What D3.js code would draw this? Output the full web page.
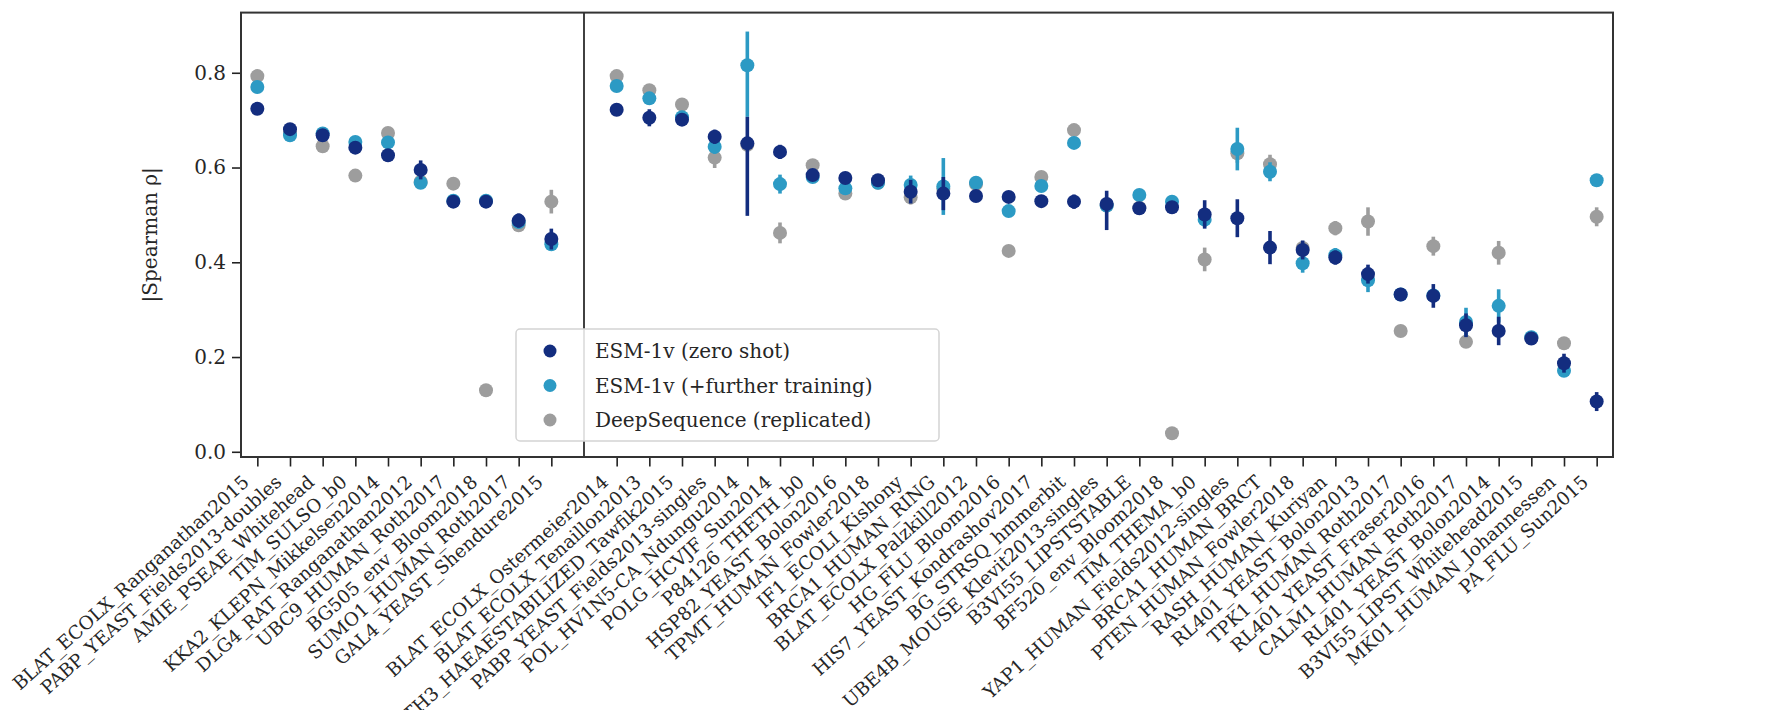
<!DOCTYPE html>
<html>
<head>
<meta charset="utf-8">
<script src="https://cdn.jsdelivr.net/npm/d3@7"></script>
<style>
  body { margin: 0; background: #fff; }
  text { font-family: "DejaVu Serif", serif; fill: #262626; }
</style>
</head>
<body>
<div id="chart"></div>
<script>
// datasets, left block then right block (a blank slot with a vertical line splits them)
var categories = [
  "BLAT_ECOLX_Ranganathan2015", "PABP_YEAST_Fields2013-doubles", "AMIE_PSEAE_Whitehead",
  "TIM_SULSO_b0", "KKA2_KLEPN_Mikkelsen2014", "DLG4_RAT_Ranganathan2012",
  "UBC9_HUMAN_Roth2017", "BG505_env_Bloom2018", "SUMO1_HUMAN_Roth2017",
  "GAL4_YEAST_Shendure2015",
  "BLAT_ECOLX_Ostermeier2014", "BLAT_ECOLX_Tenaillon2013", "MTH3_HAEAESTABILIZED_Tawfik2015",
  "PABP_YEAST_Fields2013-singles", "POL_HV1N5-CA_Ndungu2014", "POLG_HCVJF_Sun2014",
  "P84126_THETH_b0", "HSP82_YEAST_Bolon2016", "TPMT_HUMAN_Fowler2018", "IF1_ECOLI_Kishony",
  "BRCA1_HUMAN_RING", "BLAT_ECOLX_Palzkill2012", "HG_FLU_Bloom2016",
  "HIS7_YEAST_Kondrashov2017", "BG_STRSQ_hmmerbit", "UBE4B_MOUSE_Klevit2013-singles",
  "B3VI55_LIPSTSTABLE", "BF520_env_Bloom2018", "TIM_THEMA_b0",
  "YAP1_HUMAN_Fields2012-singles", "BRCA1_HUMAN_BRCT", "PTEN_HUMAN_Fowler2018",
  "RASH_HUMAN_Kuriyan", "RL401_YEAST_Bolon2013", "TPK1_HUMAN_Roth2017",
  "RL401_YEAST_Fraser2016", "CALM1_HUMAN_Roth2017", "RL401_YEAST_Bolon2014",
  "B3VI55_LIPST_Whitehead2015", "MK01_HUMAN_Johannessen", "PA_FLU_Sun2015"
];
var splitAfter = 10;

// |Spearman rho| per dataset; errors are half widths, or [down, up] when uneven
var zeroShot = [0.724, 0.681, 0.668, 0.642, 0.626, 0.595, 0.528, 0.528, 0.488, 0.449,
  0.722, 0.705, 0.701, 0.665, 0.651, 0.633, 0.584, 0.578, 0.573, 0.549,
  0.545, 0.540, 0.538, 0.529, 0.528, 0.523, 0.514, 0.516, 0.501, 0.493,
  0.431, 0.426, 0.410, 0.375, 0.332, 0.329, 0.267, 0.255, 0.239, 0.187, 0.106];
var zeroShotErr = [0.006, 0.008, 0.008, 0.01, 0.008, 0.02, 0.006, 0.006, 0.015, 0.022,
  0.006, 0.018, 0.01, 0.015, [0.153, 0.056], 0.015, 0.01, 0.008, 0.008, 0.025,
  0.035, 0.008, 0.008, 0.008, 0.015, [0.055, 0.028], 0.008, 0.008, 0.03, 0.04,
  0.035, 0.02, 0.015, 0.02, 0.008, 0.025, 0.025, 0.03, 0.008, 0.02, 0.02];

var furtherTrain = [0.770, 0.668, 0.672, 0.654, 0.653, 0.568, 0.530, 0.530, 0.485, 0.438,
  0.772, 0.746, 0.706, 0.644, 0.816, 0.565, 0.580, 0.556, 0.568, 0.563,
  0.560, 0.568, 0.508, 0.561, 0.652, 0.520, 0.542, 0.528, 0.490, 0.639,
  0.591, 0.398, 0.415, 0.362, 0.332, 0.330, 0.274, 0.308, 0.242, 0.171, 0.573];
var furtherTrainErr = [0.008, 0.006, 0.006, 0.006, 0.008, 0.01, 0.006, 0.006, 0.01, 0.01,
  0.008, 0.012, 0.008, 0.015, [0.109, 0.071], 0.02, 0.01, 0.008, 0.008, 0.02,
  0.06, 0.008, 0.01, 0.01, 0.01, 0.01, 0.008, 0.008, 0.015, 0.045,
  0.02, 0.02, 0.015, 0.025, 0.008, 0.01, 0.03, 0.035, 0.008, 0.01, 0.008];

var deepSeq = [0.793, 0.672, 0.645, 0.583, 0.673, 0.570, 0.566, 0.130, 0.478, 0.528,
  0.793, 0.763, 0.733, 0.621, 0.648, 0.462, 0.605, 0.545, 0.568, 0.537,
  0.555, 0.565, 0.424, 0.580, 0.679, 0.520, 0.515, 0.039, 0.406, 0.630,
  0.607, 0.430, 0.472, 0.486, 0.255, 0.434, 0.232, 0.420, 0.240, 0.229, 0.496];
var deepSeqErr = [0.006, 0.006, 0.006, 0.006, 0.008, 0.01, 0.008, 0.005, 0.01, 0.025,
  0.006, 0.01, 0.01, 0.022, 0, 0.022, 0.008, 0.008, 0.006, 0.015,
  0.02, 0.006, 0.006, 0.008, 0.008, 0.01, 0.006, 0.004, 0.025, 0.02,
  0.02, 0.01, 0.015, 0.03, 0.006, 0.02, 0.008, 0.025, 0.006, 0.008, 0.02];

var yTicks = [0.0, 0.2, 0.4, 0.6, 0.8];

var seriesNames = ["ESM-1v (zero shot)", "ESM-1v (+further training)", "DeepSequence (replicated)"];
var seriesColors = ["#132d7f", "#2c9ac4", "#9d9d9d"];

var width = 1792, height = 710;
var plotLeft = 241, plotRight = 1613, plotTop = 12.6, plotBottom = 457;

var svg = d3.select("#chart").append("svg")
  .attr("width", width)
  .attr("height", height);

// slot index: the empty slot at splitAfter holds the divider
function slot(i) { return i < splitAfter ? i : i + 1 }

var x = d3.scaleLinear()
  .domain([-0.5, categories.length + 0.5])
  .range([plotLeft, plotRight]);

var y = d3.scaleLinear()
  .domain([-0.011, 0.927])
  .range([plotBottom, plotTop]);

// x axis with rotated dataset names
var xAxis = d3.axisBottom(x)
  .tickValues(categories.map(function(d, i) { return slot(i) }))
  .tickFormat(function(d) { return categories[d < splitAfter ? d : d - 1] })
  .tickSize(9.5)
  .tickPadding(0);

var gx = svg.append("g")
  .attr("transform", "translate(0," + plotBottom + ")")
  .call(xAxis);
gx.select(".domain").remove();
gx.selectAll(".tick line").attr("stroke", "#222").attr("stroke-width", 1.6);
gx.selectAll(".tick text")
  .attr("font-size", 18.5)
  .attr("text-anchor", "end")
  .attr("y", 0)
  .attr("dy", 0)
  .attr("transform", "translate(-11,23) rotate(-42) translate(0,5)");

// y axis
var yAxis = d3.axisLeft(y)
  .tickValues(yTicks)
  .tickFormat(d3.format(".1f"))
  .tickSize(9)
  .tickPadding(6);

var gy = svg.append("g")
  .attr("transform", "translate(" + plotLeft + ",0)")
  .call(yAxis);
gy.select(".domain").remove();
gy.selectAll(".tick line").attr("stroke", "#222").attr("stroke-width", 1.6);
gy.selectAll(".tick text").attr("font-size", 20);

svg.append("text")
  .attr("transform", "translate(157," + ((plotTop + plotBottom) / 2) + ") rotate(-90)")
  .attr("text-anchor", "middle")
  .attr("font-size", 20)
  .text("|Spearman ρ|");

// divider between the two groups
svg.append("line")
  .attr("x1", x(splitAfter)).attr("x2", x(splitAfter))
  .attr("y1", plotTop).attr("y2", plotBottom)
  .attr("stroke", "#111")
  .attr("stroke-width", 1.6);

// points with error bars, grey first so zero shot ends on top
var series = [
  {vals: deepSeq, errs: deepSeqErr, color: seriesColors[2]},
  {vals: furtherTrain, errs: furtherTrainErr, color: seriesColors[1]},
  {vals: zeroShot, errs: zeroShotErr, color: seriesColors[0]}
];

series.forEach(function(s) {
  var pts = s.vals.map(function(v, i) {
    var e = s.errs[i];
    var down = Array.isArray(e) ? e[0] : e;
    var up = Array.isArray(e) ? e[1] : e;
    return {x: slot(i), v: v, lo: v - down, hi: v + up};
  });
  var g = svg.append("g");
  g.selectAll("line")
    .data(pts)
    .enter()
    .append("line")
      .attr("x1", function(d) { return x(d.x) })
      .attr("x2", function(d) { return x(d.x) })
      .attr("y1", function(d) { return y(d.lo) })
      .attr("y2", function(d) { return y(d.hi) })
      .attr("stroke", s.color)
      .attr("stroke-width", 3.6);
  g.selectAll("circle")
    .data(pts)
    .enter()
    .append("circle")
      .attr("cx", function(d) { return x(d.x) })
      .attr("cy", function(d) { return y(d.v) })
      .attr("r", 7)
      .attr("fill", s.color);
});

// frame
svg.append("rect")
  .attr("x", plotLeft).attr("y", plotTop)
  .attr("width", plotRight - plotLeft)
  .attr("height", plotBottom - plotTop)
  .attr("fill", "none")
  .attr("stroke", "#333")
  .attr("stroke-width", 2);

// legend
var legend = svg.append("g").attr("transform", "translate(516,329)");
legend.append("rect")
  .attr("width", 423).attr("height", 112)
  .attr("rx", 4)
  .attr("fill", "#fff")
  .attr("fill-opacity", 0.85)
  .attr("stroke", "#d4d4d4")
  .attr("stroke-width", 1.5);

var rows = legend.selectAll(".row")
  .data(seriesNames)
  .enter()
  .append("g")
    .attr("transform", function(d, i) { return "translate(0," + (22 + i * 34.5) + ")" });
rows.append("circle")
  .attr("cx", 34).attr("r", 6.5)
  .attr("fill", function(d, i) { return seriesColors[i] });
rows.append("text")
  .attr("x", 79).attr("dy", "0.36em")
  .attr("font-size", 20)
  .text(function(d) { return d });
</script>
</body>
</html>
